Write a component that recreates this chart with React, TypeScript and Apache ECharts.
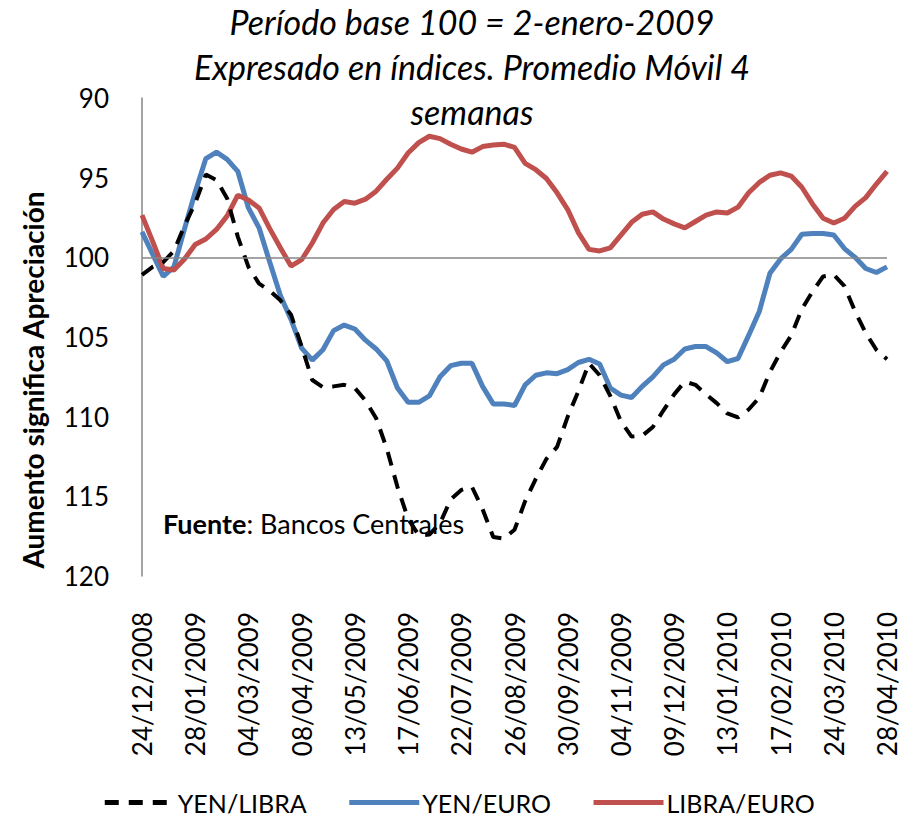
import React, { useEffect, useRef } from "react";
import * as echarts from "echarts";

const dates = [
  "24/12/2008", "31/12/2008", "07/01/2009", "14/01/2009", "21/01/2009",
  "28/01/2009", "04/02/2009", "11/02/2009", "18/02/2009", "25/02/2009",
  "04/03/2009", "11/03/2009", "18/03/2009", "25/03/2009", "01/04/2009",
  "08/04/2009", "15/04/2009", "22/04/2009", "29/04/2009", "06/05/2009",
  "13/05/2009", "20/05/2009", "27/05/2009", "03/06/2009", "10/06/2009",
  "17/06/2009", "24/06/2009", "01/07/2009", "08/07/2009", "15/07/2009",
  "22/07/2009", "29/07/2009", "05/08/2009", "12/08/2009", "19/08/2009",
  "26/08/2009", "02/09/2009", "09/09/2009", "16/09/2009", "23/09/2009",
  "30/09/2009", "07/10/2009", "14/10/2009", "21/10/2009", "28/10/2009",
  "04/11/2009", "11/11/2009", "18/11/2009", "25/11/2009", "02/12/2009",
  "09/12/2009", "16/12/2009", "23/12/2009", "30/12/2009", "06/01/2010",
  "13/01/2010", "20/01/2010", "27/01/2010", "03/02/2010", "10/02/2010",
  "17/02/2010", "24/02/2010", "03/03/2010", "10/03/2010", "17/03/2010",
  "24/03/2010", "31/03/2010", "07/04/2010", "14/04/2010", "21/04/2010",
  "28/04/2010",
];

const yenLibra = [
  101.1, 100.6, 100.3, 99.6, 98.0, 96.6, 94.8, 95.15, 96.3, 98.7,
  100.6, 101.65, 102.1, 102.7, 103.6, 105.6, 107.7, 108.15, 108.1, 108.0,
  108.2, 109.0, 110.1, 112.0, 114.4, 116.4, 117.45, 117.4, 116.7, 115.2,
  114.6, 114.4, 115.8, 117.55, 117.65, 117.1, 115.3, 113.9, 112.65, 111.9,
  110.0, 108.4, 106.65, 107.4, 108.7, 110.3, 111.25, 111.2, 110.65, 109.6,
  108.6, 107.8, 108.0, 108.6, 109.15, 109.8, 110.05, 109.55, 108.8, 107.2,
  105.95, 104.9, 103.25, 102.15, 101.2, 101.1, 101.8, 103.4, 104.75, 105.8,
  106.4,
];

const yenEuro = [
  98.4, 99.8, 101.2, 100.6, 98.2, 95.9, 93.8, 93.4, 93.85, 94.6,
  96.9, 98.15, 100.3, 102.4, 103.9, 105.7, 106.45, 105.8, 104.6, 104.25,
  104.5, 105.2, 105.75, 106.5, 108.2, 109.1, 109.1, 108.7, 107.5, 106.8,
  106.65, 106.65, 108.1, 109.2, 109.2, 109.3, 108.0, 107.4, 107.25, 107.3,
  107.05, 106.6, 106.4, 106.7, 108.2, 108.65, 108.8, 108.1, 107.5, 106.75,
  106.4, 105.75, 105.6, 105.6, 106.0, 106.55, 106.35, 104.9, 103.4, 101.0,
  100.1, 99.5, 98.55, 98.5, 98.5, 98.6, 99.45, 100.0, 100.7, 100.95,
  100.6,
];

const libraEuro = [
  97.35, 99.0, 100.7, 100.8, 100.1, 99.2, 98.85, 98.25, 97.4, 96.1,
  96.4, 96.9, 98.2, 99.4, 100.55, 100.15, 99.1, 97.85, 97.0, 96.5,
  96.6, 96.35, 95.85, 95.1, 94.4, 93.45, 92.8, 92.4, 92.55, 92.9,
  93.2, 93.4, 93.05, 92.95, 92.9, 93.1, 94.1, 94.5, 95.05, 95.95,
  97.0, 98.45, 99.5, 99.6, 99.4, 98.6, 97.8, 97.3, 97.15, 97.6,
  97.9, 98.15, 97.75, 97.35, 97.15, 97.22, 96.85, 95.95, 95.3, 94.85,
  94.7, 94.9, 95.6, 96.65, 97.55, 97.85, 97.55, 96.8, 96.25, 95.4,
  94.6,
];

const seriesNames = ["YEN/LIBRA", "YEN/EURO", "LIBRA/EURO"];
const yTicks = { min: 90, max: 120, interval: 5 };
const baseLine = 100;

const FONT = "Lato, Carlito, 'Open Sans', sans-serif";

export default function App() {
  const ref = useRef<HTMLDivElement>(null);

  useEffect(() => {
    document.body.style.margin = "0";
    if (!ref.current) return;
    const chart = echarts.init(ref.current, undefined, { renderer: "svg" });
    chart.setOption({
      animation: false,
      backgroundColor: "#ffffff",
      textStyle: { fontFamily: FONT },
      title: {
        text: "Período base 100 = 2-enero-2009\nExpresado en índices. Promedio Móvil 4\nsemanas",
        left: 467,
        top: -6,
        textAlign: "center",
        textStyle: {
          fontFamily: FONT,
          fontStyle: "italic",
          fontWeight: "normal",
          fontSize: 34,
          lineHeight: 45,
          color: "#000",
        },
      },
      grid: { left: 142, right: 30, top: 98, bottom: 244, containLabel: false },
      legend: {
        data: seriesNames,
        left: "center",
        bottom: 0,
        itemWidth: 70,
        itemHeight: 10,
        itemGap: 40,
        itemStyle: { opacity: 0 },
        lineStyle: { width: 5 },
        textStyle: { fontFamily: FONT, fontSize: 25, color: "#000", padding: [0, 0, 0, -2] },
      },
      xAxis: {
        type: "category",
        data: dates,
        boundaryGap: false,
        axisLine: { show: false },
        axisTick: { show: false },
        splitLine: { show: false },
        axisLabel: {
          interval: 4,
          rotate: 90,
          margin: 36,
          fontSize: 26,
          fontFamily: FONT,
          color: "#000",
        },
      },
      yAxis: {
        type: "value",
        inverse: true,
        min: yTicks.min,
        max: yTicks.max,
        interval: yTicks.interval,
        axisLine: { show: true, lineStyle: { color: "#868686", width: 1.5 } },
        axisTick: { show: false },
        splitLine: { show: false },
        axisLabel: { margin: 33, fontSize: 26, fontFamily: FONT, color: "#000" },
      },
      graphic: [
        {
          type: "text",
          x: 33,
          y: 380,
          rotation: Math.PI / 2,
          style: {
            text: "Aumento significa Apreciación",
            fontFamily: FONT,
            fontWeight: "bold",
            fontSize: 28,
            fill: "#000",
            textAlign: "center",
            textVerticalAlign: "middle",
          },
        },
        {
          type: "text",
          x: 163,
          y: 523,
          style: {
            text: "{b|Fuente}: Bancos Centrales",
            rich: {
              b: { fontWeight: "bold", fontFamily: FONT, fontSize: 27, fill: "#000" },
            },
            fontFamily: FONT,
            fontSize: 27,
            fill: "#000",
            textVerticalAlign: "middle",
          },
        },
      ],
      series: [
        {
          name: seriesNames[0],
          type: "line",
          data: yenLibra,
          symbol: "none",
          z: 3,
          lineStyle: { color: "#000000", width: 4, type: [14, 10] },
          itemStyle: { color: "#000000" },
        },
        {
          name: seriesNames[1],
          type: "line",
          data: yenEuro,
          symbol: "none",
          z: 2,
          lineStyle: { color: "#4F81BD", width: 5 },
          itemStyle: { color: "#4F81BD" },
          markLine: {
            silent: true,
            symbol: ["none", "none"],
            label: { show: false },
            lineStyle: { color: "#868686", width: 1.5, type: "solid" },
            data: [{ yAxis: baseLine }],
          },
        },
        {
          name: seriesNames[2],
          type: "line",
          data: libraEuro,
          symbol: "none",
          z: 2,
          lineStyle: { color: "#C0504D", width: 5 },
          itemStyle: { color: "#C0504D" },
        },
      ],
    });
    return () => chart.dispose();
  }, []);

  return <div ref={ref} style={{ width: 917, height: 820 }} />;
}
